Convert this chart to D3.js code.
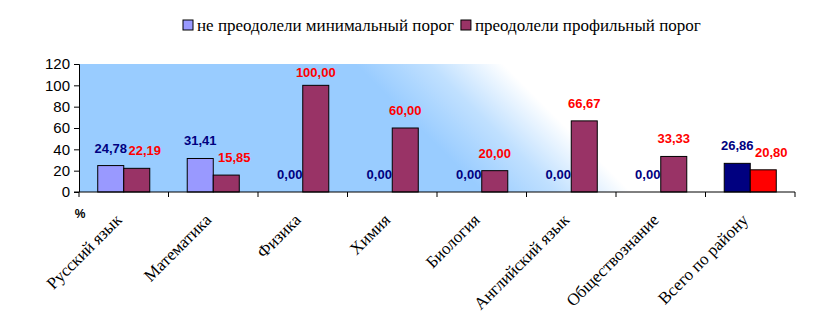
<!DOCTYPE html>
<html>
<head>
<meta charset="utf-8">
<script src="https://cdn.jsdelivr.net/npm/d3@7/dist/d3.min.js"></script>
<style>
  html, body { margin: 0; padding: 0; background: #fff; }
  svg { display: block; }
</style>
</head>
<body>
<svg id="chart" width="814" height="330"></svg>
<script>
// Subjects and share of students (%)
const categories = ["Русский язык", "Математика", "Физика", "Химия", "Биология",
  "Английский язык", "Обществознание", "Всего по району"];
const seriesNames = ["не преодолели минимальный порог", "преодолели профильный порог"];
const failedMin = [24.78, 31.41, 0.00, 0.00, 0.00, 0.00, 0.00, 26.86];
const passedProfile = [22.19, 15.85, 100.00, 60.00, 20.00, 66.67, 33.33, 20.80];
const yTicks = [0, 20, 40, 60, 80, 100, 120];

const SERIF = "Liberation Serif";
const SANS = "Liberation Sans";

const svg = d3.select("#chart");
const margin = { left: 79, right: 19, top: 64, bottom: 138 };
const W = 814, H = 330;
const plotW = W - margin.left - margin.right;
const plotH = H - margin.top - margin.bottom;

const seriesFill = ["#9999ff", "#993366"];
const totalFill = ["#000080", "#ff0000"];
const labelColor = ["#000080", "#ff0000"];

const x = d3.scaleBand().domain(categories).range([0, plotW]).padding(0);
const xi = d3.scaleBand().domain([0, 1]).range([0, x.bandwidth()])
  .paddingInner(0).paddingOuter(0.72);
const y = d3.scaleLinear().domain([0, 120]).range([plotH, 0]);

// plot background: diagonal blue-to-white fade
const defs = svg.append("defs");
const grad = defs.append("linearGradient")
  .attr("id", "bg")
  .attr("gradientUnits", "userSpaceOnUse")
  .attr("x1", 276).attr("y1", 0)
  .attr("x2", 350).attr("y2", -74);
grad.append("stop").attr("offset", 0).attr("stop-color", "#99ccff");
grad.append("stop").attr("offset", 0.5).attr("stop-color", "#c0e0ff");
grad.append("stop").attr("offset", 1).attr("stop-color", "#ffffff");

const g = svg.append("g").attr("transform", `translate(${margin.left},${margin.top})`);
g.append("rect").attr("width", plotW).attr("height", plotH).attr("fill", "url(#bg)");

// bars
const rows = categories.map((c, i) => ({ c, i, vals: [failedMin[i], passedProfile[i]] }));
const groups = g.selectAll(".grp").data(rows).join("g")
  .attr("transform", d => `translate(${x(d.c)},0)`);

groups.selectAll("rect").data(d => d.vals.map((v, s) => ({ v, s, last: d.i === categories.length - 1 })))
  .join("rect")
  .attr("x", d => xi(d.s))
  .attr("width", xi.bandwidth())
  .attr("y", d => y(d.v))
  .attr("height", d => plotH - y(d.v))
  .attr("fill", d => d.last ? totalFill[d.s] : seriesFill[d.s])
  .attr("stroke", d => d.v > 0 ? "#000" : "none")
  .attr("stroke-width", 1);

// value labels, kept inside the plot and nudged apart when they collide
const fmt = v => v.toFixed(2).replace(".", ",");
groups.each(function () {
  const grp = d3.select(this);
  const d = grp.datum();
  const texts = d.vals.map((v, s) => grp.append("text")
    .style("font-family", SANS)
    .attr("x", xi(s) + xi.bandwidth() / 2)
    .attr("y", Math.max(y(v) - 13, 13))
    .attr("text-anchor", "middle")
    .attr("font-weight", "bold")
    .attr("font-size", 13)
    .attr("fill", labelColor[s])
    .text(fmt(v)));
  const a = texts[0].node().getBBox(), b = texts[1].node().getBBox();
  const overlapX = a.x + a.width - b.x;
  const dy = Math.abs(a.y - b.y);
  if (overlapX > 0 && dy < 20) {
    texts[1].attr("x", +texts[1].attr("x") + overlapX + 1.5);
  }
});

// y axis
const yAxis = d3.axisLeft(y).tickValues(yTicks).tickSize(5).tickPadding(4);
const ya = g.append("g").call(yAxis);
ya.select(".domain").attr("stroke", "#000").attr("d", `M-5,0.5H0.5V${plotH}`);
ya.selectAll("text").style("font-family", SANS)
  .attr("font-size", 15).attr("fill", "#000");

// x axis with boundary ticks
const xa = g.append("g").attr("transform", `translate(0,${plotH})`);
xa.append("line").attr("x1", -5).attr("x2", plotW).attr("stroke", "#000");
const bounds = categories.map(c => x(c)).concat([plotW]);
xa.selectAll(".tk").data(bounds).join("line")
  .attr("x1", d => d).attr("x2", d => d).attr("y1", 0).attr("y2", 5).attr("stroke", "#000");

// category names, slanted, right end anchored under each group
xa.selectAll(".cl").data(categories).join("text")
  .style("font-family", SERIF)
  .attr("transform", c => `translate(${x(c) + x.bandwidth() / 2 - 1},${29}) rotate(-45)`)
  .attr("text-anchor", "end")
  .attr("font-size", 17)
  .attr("fill", "#000")
  .text(c => c);

// unit label
g.append("text").style("font-family", SANS).attr("x", 1).attr("y", plotH + 26)
  .attr("text-anchor", "middle")
  .attr("font-weight", "bold").attr("font-size", 12)
  .text("%");

// legend
const legend = svg.append("g").attr("transform", "translate(183,20)");
const leg = legend.selectAll("g").data(seriesNames).join("g");
leg.append("rect").attr("width", 10).attr("height", 10)
  .attr("fill", (d, i) => seriesFill[i]).attr("stroke", "#000");
leg.append("text").style("font-family", SERIF).attr("x", 14).attr("y", 11)
  .attr("font-size", 17)
  .text(d => d);
let off = 0;
leg.each(function () {
  d3.select(this).attr("transform", `translate(${off},0)`);
  off += this.getBBox().width + 7;
});
</script>
</body>
</html>
